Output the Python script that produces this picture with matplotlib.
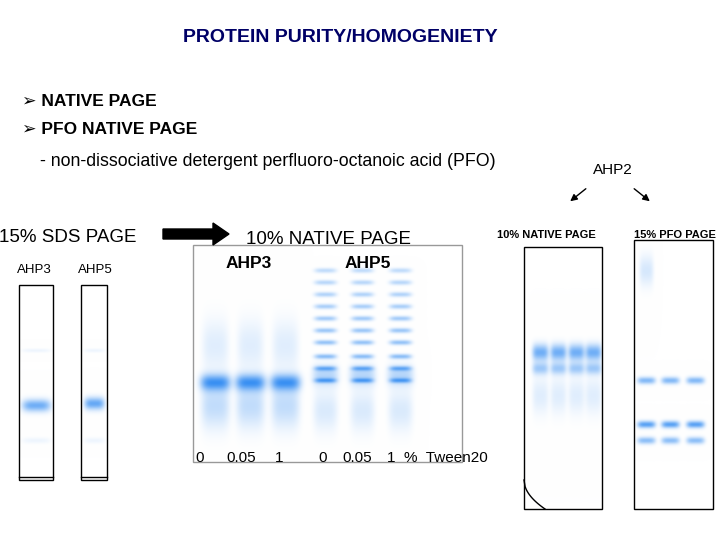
import numpy as np
import matplotlib
matplotlib.use("Agg")
import matplotlib.pyplot as plt
from matplotlib.patches import Rectangle, FancyArrow

plt.rcParams['font.family'] = ['Liberation Sans', 'DejaVu Sans']

# Gel data: (lane x, band y, width, height, intensity)
sds_bands = [(36, 405, 14, 6, 0.7), (94, 403, 10, 6, 0.75)]
sds_gels = [(19, 285, 53, 480), (81, 285, 107, 480)]
native_gel = (193, 245, 462, 462)
ahp3_lanes = [215, 250, 285]
ahp5_lanes = [325, 362, 400]
ahp5_ladder = [270, 282, 294, 306, 318, 330, 342, 356, 368, 380]
ahp2_native_gel = (524, 247, 602, 509)
ahp2_lanes = [540, 558, 576, 593]
pfo_gel = (634, 240, 713, 509)
pfo_lanes = [646, 670, 695]
pfo_bands = [380, 424, 440]
lane_labels = ["0", "0.05", "1", "0", "0.05", "1  %  Tween20"]
lane_label_x = [200, 241, 279, 323, 357, 387]

fig = plt.figure(figsize=(7.2, 5.4), dpi=100)
ax = fig.add_axes([0, 0, 1, 1])
ax.set_xlim(0, 720); ax.set_ylim(540, 0); ax.axis("off")

def gel(box, bands, border="black", lw=1):
    x0, y0, x1, y1 = box
    xs = np.arange(x0, x1); ys = np.arange(y0, y1)
    X, Y = np.meshgrid(xs, ys)
    I = np.zeros_like(X, dtype=float)
    for (bx, by, w, h, a) in bands:
        I += a*np.exp(-((X-bx)/w)**4 - ((Y-by)/h)**2)
    I = np.clip(I, 0, 1)
    blue = np.array([0.2, 0.55, 0.95])
    img = np.ones(I.shape+(3,))*(1-I[..., None]) + blue*I[..., None]
    ax.imshow(img, extent=(x0, x1, y1, y0), aspect="auto", zorder=1)
    ax.add_patch(Rectangle((x0, y0), x1-x0, y1-y0, fill=False, ec=border, lw=lw, zorder=2))

for g, b in zip(sds_gels, sds_bands):
    gel(g, [b, (b[0], 350, b[2], 2, 0.08), (b[0], 440, b[2], 3, 0.08)])
    ax.plot([g[0], g[2]], [g[3]-3, g[3]-3], color="k", lw=1, zorder=3)

nb = []
for x in ahp3_lanes:
    nb += [(x, 382, 15, 8, 0.85), (x, 405, 14, 22, 0.3), (x, 345, 13, 25, 0.15)]
for x in ahp5_lanes:
    for i, y in enumerate(ahp5_ladder):
        nb.append((x, y, 11, 2.5, 0.3 + 0.035*i))
    nb += [(x, 375, 13, 10, 0.35), (x, 410, 12, 20, 0.18)]
gel(native_gel, nb, border="#999999")

ab = []
for x in ahp2_lanes:
    ab += [(x, 352, 8, 8, 0.7), (x, 368, 8, 6, 0.45), (x, 395, 8, 18, 0.15)]
gel(ahp2_native_gel, ab)
ax.plot(np.linspace(524, 545, 20), 480 + 29*np.linspace(0, 1, 20)**0.5, color="k", lw=1, zorder=3)

pb = [(646, 270, 7, 15, 0.2)]
for x in pfo_lanes:
    for y, a in zip(pfo_bands, [0.6, 0.8, 0.55]):
        pb.append((x, y, 9, 3.5, a))
gel(pfo_gel, pb)

ax.text(340, 37, "PROTEIN PURITY/HOMOGENIETY", color="#000066", fontsize=14, fontweight="bold", ha="center", va="center")
ax.text(22, 101, "➢ NATIVE PAGE", fontsize=12.5, fontweight="bold", va="center")
ax.text(22, 130, "➢ PFO NATIVE PAGE", fontsize=12.5, fontweight="bold", va="center")
ax.text(40, 161, "- non-dissociative detergent perfluoro-octanoic acid (PFO)", fontsize=12.8, va="center")
ax.text(613, 170, "AHP2", fontsize=11, ha="center", va="center")
ax.annotate("", xy=(568, 203), xytext=(588, 187), arrowprops=dict(arrowstyle="-|>", color="k", lw=1))
ax.annotate("", xy=(652, 203), xytext=(632, 187), arrowprops=dict(arrowstyle="-|>", color="k", lw=1))
ax.text(68, 237, "15% SDS PAGE", fontsize=13.5, ha="center", va="center")
ax.add_patch(FancyArrow(163, 234, 50, 0, width=10, head_width=22, head_length=16, color="k", zorder=3))
ax.text(329, 239, "10% NATIVE PAGE", fontsize=13.5, ha="center", va="center")
ax.text(249, 263, "AHP3", fontsize=12.5, fontweight="bold", ha="center", va="center")
ax.text(368, 263, "AHP5", fontsize=12.5, fontweight="bold", ha="center", va="center")
ax.text(546, 235, "10% NATIVE PAGE", fontsize=8, fontweight="bold", ha="center", va="center")
ax.text(675, 235, "15% PFO PAGE", fontsize=8, fontweight="bold", ha="center", va="center")
ax.text(34, 270, "AHP3", fontsize=9.5, ha="center", va="center")
ax.text(95, 270, "AHP5", fontsize=9.5, ha="center", va="center")
for s, x in zip(lane_labels, lane_label_x):
    ax.text(x, 458, s, fontsize=11, ha="center" if len(s) < 5 else "left", va="center", zorder=4)

fig.savefig("out.png", dpi=100)
